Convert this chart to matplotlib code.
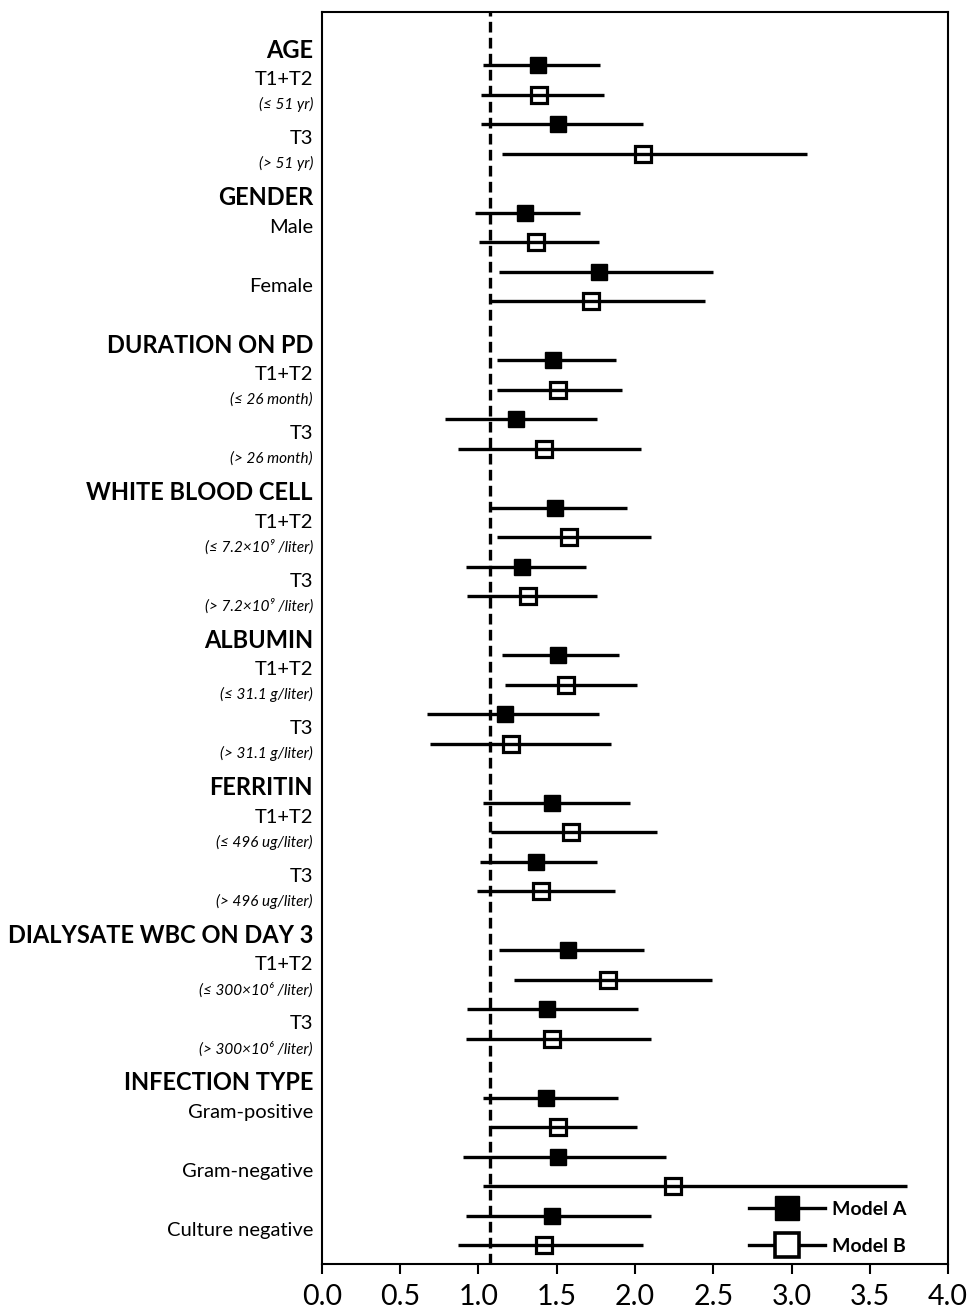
import matplotlib
matplotlib.use("Agg")
import matplotlib.pyplot as plt
import matplotlib.transforms as mtransforms
from matplotlib.lines import Line2D
import numpy as np

plt.rcParams['font.family'] = ['Lato', 'DejaVu Sans']

# group headers, subgroup labels and cut-off notes
groups = ["AGE", "GENDER", "DURATION ON PD", "WHITE BLOOD CELL", "ALBUMIN",
          "FERRITIN", "DIALYSATE WBC ON DAY 3", "INFECTION TYPE"]
subgroups = [["T1+T2", "T3"], ["Male", "Female"], ["T1+T2", "T3"], ["T1+T2", "T3"],
             ["T1+T2", "T3"], ["T1+T2", "T3"], ["T1+T2", "T3"],
             ["Gram-positive", "Gram-negative", "Culture negative"]]
cutoffs = [["(≤ 51 yr)", "(> 51 yr)"], [None, None],
           ["(≤ 26 month)", "(> 26 month)"],
           ["(≤ 7.2×10⁹ /liter)", "(> 7.2×10⁹ /liter)"],
           ["(≤ 31.1 g/liter)", "(> 31.1 g/liter)"],
           ["(≤ 496 ug/liter)", "(> 496 ug/liter)"],
           ["(≤ 300×10⁶ /liter)", "(> 300×10⁶ /liter)"],
           [None, None, None]]

# hazard ratios with 95% CI, one value per subgroup (in order)
hr_a = [1.38, 1.51, 1.30, 1.77, 1.48, 1.24, 1.49, 1.28, 1.51, 1.17,
        1.47, 1.37, 1.57, 1.44, 1.43, 1.51, 1.47]
lo_a = [1.03, 1.02, 0.98, 1.13, 1.12, 0.79, 1.08, 0.92, 1.15, 0.67,
        1.03, 1.01, 1.13, 0.93, 1.03, 0.90, 0.92]
hi_a = [1.78, 2.05, 1.65, 2.50, 1.88, 1.76, 1.95, 1.69, 1.90, 1.77,
        1.97, 1.76, 2.06, 2.02, 1.89, 2.20, 2.10]
hr_b = [1.39, 2.05, 1.37, 1.72, 1.51, 1.42, 1.58, 1.32, 1.56, 1.21,
        1.59, 1.40, 1.83, 1.47, 1.51, 2.24, 1.42]
lo_b = [1.02, 1.15, 1.005, 1.075, 1.12, 0.87, 1.12, 0.93, 1.17, 0.69,
        1.08, 0.99, 1.23, 0.92, 1.08, 1.03, 0.87]
hi_b = [1.80, 3.10, 1.77, 2.45, 1.92, 2.04, 2.10, 1.76, 2.01, 1.85,
        2.14, 1.87, 2.49, 2.10, 2.01, 3.74, 2.05]

ref_line = 1.075
xticks = [0.0, 0.5, 1.0, 1.5, 2.0, 2.5, 3.0, 3.5, 4.0]

# row positions: model A row, then model B row, one blank row after each group
header_y, ya, yb = [], [], []
pos = 0
for subs in subgroups:
    header_y.append(pos - 0.5)
    for _ in subs:
        ya.append(pos)
        yb.append(pos + 1)
        pos += 2
    pos += 1
ya = np.array(ya)
yb = np.array(yb)

fig = plt.figure(figsize=(9.69, 13.13), dpi=100)
ax = fig.add_axes([0.332, 0.0373, 0.6465, 0.9536])

ax.axvline(ref_line, color='black', lw=2.4, ls=(0, (3.2, 1.6)), zorder=1)

ax.hlines(ya, lo_a, hi_a, color='black', lw=2.4, zorder=2)
ax.hlines(yb, lo_b, hi_b, color='black', lw=2.4, zorder=2)
ax.plot(hr_a, ya, 's', ms=12, color='black', zorder=3)
ax.plot(hr_b, yb, 's', ms=12, mfc='none', mec='black', mew=2.3, zorder=3)

ax.set_xlim(0, 4)
ax.set_ylim(40.64, -1.8)
ax.set_xticks(xticks)
ax.set_xticklabels([f"{t:.1f}" for t in xticks])
ax.set_yticks([])
ax.tick_params(axis='x', direction='out', length=7.5, width=1.5, labelsize=20.5, pad=7)
for sp in ax.spines.values():
    sp.set_linewidth(1.5)

# left-hand labels
trans = mtransforms.blended_transform_factory(ax.transAxes, ax.transData)
lx = -0.014
k = 0
for g, subs in enumerate(subgroups):
    ax.text(lx, header_y[g], groups[g], transform=trans, ha='right', va='center',
            fontsize=17, fontweight='bold')
    for s, name in enumerate(subs):
        note = cutoffs[g][s]
        ax.text(lx, ya[k] + 0.5, name, transform=trans, ha='right', va='center',
                fontsize=14.5)
        if note:
            ax.text(lx, ya[k] + 1.35, note, transform=trans, ha='right', va='center',
                    fontsize=11, fontstyle='italic')
        k += 1

handles = [Line2D([], [], color='black', lw=2.4, marker='s', ms=17),
           Line2D([], [], color='black', lw=2.4, marker='s', ms=17, mfc='white', mew=2.6)]
ax.legend(handles, ["Model A", "Model B"], loc='lower right', frameon=False,
          bbox_to_anchor=(0.962, -0.007), handlelength=3.9, labelspacing=1.05,
          handletextpad=0.4, prop={'weight': 'bold', 'size': 14})

fig.savefig("out.png", dpi=100)
